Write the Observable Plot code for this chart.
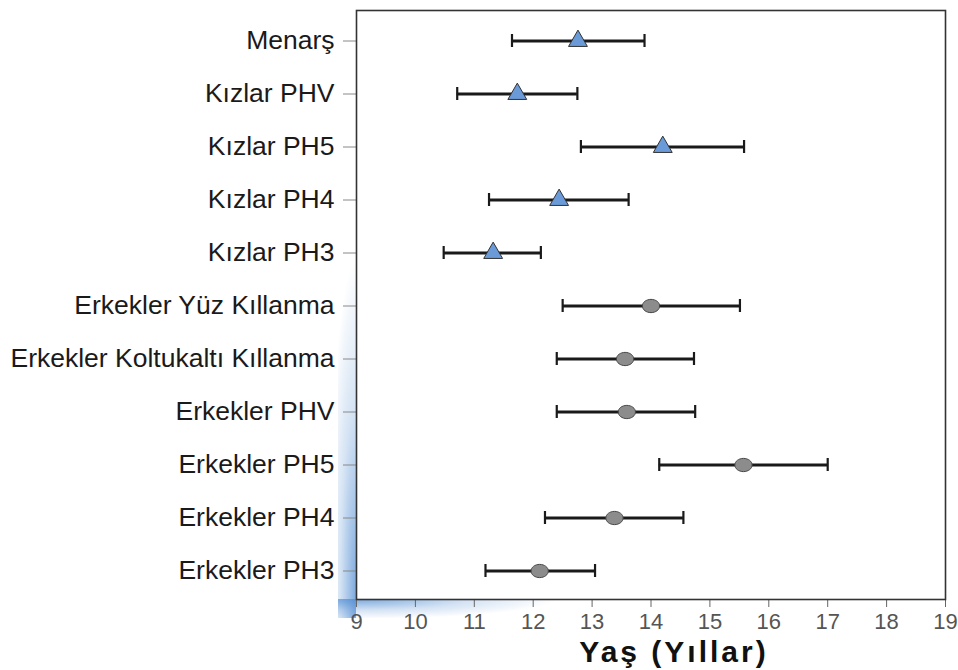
<!DOCTYPE html>
<html>
<head>
<meta charset="utf-8">
<script src="https://cdn.jsdelivr.net/npm/d3@7"></script>
<script src="https://cdn.jsdelivr.net/npm/@observablehq/plot@0.6"></script>
<style>
  html, body { margin: 0; padding: 0; background: white; }
  #wrap { position: relative; width: 958px; height: 670px; }
  .glow { position: absolute; z-index: 0; }
  #chart { position: absolute; left: 0; top: 0; z-index: 1; }
  .xlabel text { letter-spacing: 3px; }
</style>
</head>
<body>
<div id="wrap">
  <div class="glow" id="glowLeft"></div>
  <div class="glow" id="glowBottom"></div>
  <div id="chart"></div>
</div>
<script>
const categories = [
  "Menarş", "Kızlar PHV", "Kızlar PH5", "Kızlar PH4", "Kızlar PH3",
  "Erkekler Yüz Kıllanma", "Erkekler Koltukaltı Kıllanma", "Erkekler PHV",
  "Erkekler PH5", "Erkekler PH4", "Erkekler PH3"
];
const groups = ["Kız", "Kız", "Kız", "Kız", "Kız", "Erkek", "Erkek", "Erkek", "Erkek", "Erkek", "Erkek"];
const means = [12.76, 11.73, 14.20, 12.44, 11.32, 14.00, 13.56, 13.59, 15.57, 13.38, 12.11];
const lows  = [11.64, 10.71, 12.81, 11.25, 10.48, 12.50, 12.40, 12.40, 14.14, 12.20, 11.19];
const highs = [13.89, 12.75, 15.58, 13.62, 12.13, 15.51, 14.73, 14.75, 17.00, 14.55, 13.05];
const xTicks = [9, 10, 11, 12, 13, 14, 15, 16, 17, 18, 19];
const xLabel = "Yaş (Yıllar)";

const rows = categories.map((c, i) => ({cat: c, group: groups[i], mean: means[i], lo: lows[i], hi: highs[i]}));

// ellipse symbol for boys' markers
const ellipse = {
  draw(context, size) {
    const r = Math.sqrt(size / Math.PI);
    const rx = r * 1.2, ry = r * 0.92, k = 0.5523;
    context.moveTo(rx, 0);
    context.bezierCurveTo(rx, ry * k, rx * k, ry, 0, ry);
    context.bezierCurveTo(-rx * k, ry, -rx, ry * k, -rx, 0);
    context.bezierCurveTo(-rx, -ry * k, -rx * k, -ry, 0, -ry);
    context.bezierCurveTo(rx * k, -ry, rx, -ry * k, rx, 0);
    context.closePath();
  }
};

const font = "'Liberation Sans', Arial, Helvetica, sans-serif";

const plot = Plot.plot({
  width: 958,
  height: 670,
  marginLeft: 356,
  marginRight: 13,
  marginTop: 10,
  marginBottom: 71,
  style: {background: "transparent", fontFamily: font},
  x: {domain: [9, 19]},
  y: {type: "band", domain: categories, paddingInner: 0, paddingOuter: 0.03, align: 0.6},
  marks: [
    Plot.frame({fill: "white", stroke: "none"}),
    Plot.axisY({tickSize: 13, tickPadding: 9, fontSize: 26.5, color: "#1a1a1a", stroke: "#888", label: null, tickFormat: d => d}),
    Plot.axisX({ticks: xTicks, tickSize: 8, tickPadding: 6, fontSize: 22, color: "#555", stroke: "#666", label: null}),
    Plot.ruleY(rows, {y: "cat", x1: "lo", x2: "hi", stroke: "#1a1a1a", strokeWidth: 3.2}),
    Plot.tickX(rows, {y: "cat", x: "lo", stroke: "#1a1a1a", strokeWidth: 2.2, insetTop: 20, insetBottom: 20}),
    Plot.tickX(rows, {y: "cat", x: "hi", stroke: "#1a1a1a", strokeWidth: 2.2, insetTop: 20, insetBottom: 20}),
    Plot.dot(rows.filter(d => d.group === "Kız"), {y: "cat", x: "mean", symbol: "triangle", r: 7, fill: "#6a9ad8", stroke: "#333", strokeWidth: 1}),
    Plot.dot(rows.filter(d => d.group === "Erkek"), {y: "cat", x: "mean", symbol: ellipse, r: 7.2, fill: "#8c8c8c", stroke: "#444", strokeWidth: 1}),
    Plot.frame({stroke: "#333", strokeWidth: 1.6}),
    Plot.text([xLabel], {frameAnchor: "bottom", dx: 23, dy: 62, fontSize: 30, fontWeight: "bold", fill: "#111", className: "xlabel"})
  ]
});
document.getElementById("chart").appendChild(plot);

const gl = document.getElementById("glowLeft");
Object.assign(gl.style, {left: "338px", top: "260px", width: "18px", height: "358px",
  background: "radial-gradient(ellipse 28px 340px at 18px 340px, rgba(80,140,210,0.75), rgba(80,140,210,0.25) 55%, rgba(80,140,210,0) 100%)"});
const gb = document.getElementById("glowBottom");
Object.assign(gb.style, {left: "338px", top: "599px", width: "220px", height: "19px",
  background: "radial-gradient(ellipse 200px 20px at 18px 0px, rgba(80,140,210,0.75), rgba(80,140,210,0.25) 55%, rgba(80,140,210,0) 100%)"});
</script>
</body>
</html>
